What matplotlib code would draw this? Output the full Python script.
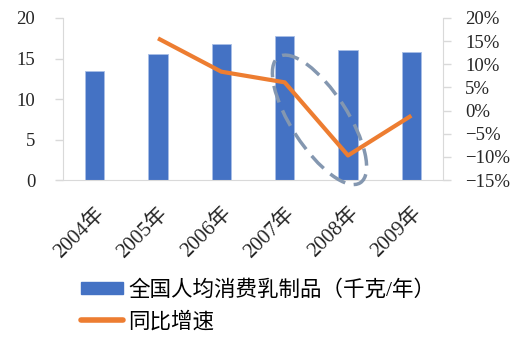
import matplotlib
matplotlib.use("Agg")
import matplotlib.pyplot as plt
from matplotlib.patches import Ellipse
from matplotlib.ticker import FuncFormatter
from matplotlib.lines import Line2D
from matplotlib.patches import Patch
import matplotlib.transforms as mtransforms

plt.rcParams['font.family'] = ['Liberation Serif', 'Noto Sans CJK SC', 'DejaVu Sans']
plt.rcParams['axes.unicode_minus'] = True

years = ['2004年', '2005年', '2006年', '2007年', '2008年', '2009年']
consumption = [13.5, 15.6, 16.8, 17.8, 16.0, 15.8]
growth_years = ['2005年', '2006年', '2007年', '2008年', '2009年']
growth = [15.6, 8.4, 6.1, -9.7, -1.1]

bar_label = '全国人均消费乳制品（千克/年）'
line_label = '同比增速'

bar_color = '#4472C4'
line_color = '#ED7D31'
axis_color = '#D9D9D9'

fig = plt.figure(figsize=(5.2, 3.38), dpi=100)
ax = fig.add_axes([63/520, 1-180/338, 380/520, 162/338])
ax2 = ax.twinx()

x = list(range(len(years)))
ax.bar(x, consumption, width=0.31, color=bar_color, edgecolor='#A9BFE6', linewidth=0.6, zorder=2)
ax.set_xlim(-0.5, len(years)-0.5)
ax.set_ylim(0, 20)
ax.set_yticks([0, 5, 10, 15, 20])

gx = [years.index(y) for y in growth_years]
ax2.plot(gx, growth, color=line_color, linewidth=3, solid_capstyle='butt', solid_joinstyle='round', zorder=3)
ax2.set_ylim(-15, 20)
ax2.set_yticks(list(range(-15, 21, 5)))
ax2.yaxis.set_major_formatter(FuncFormatter(lambda v, p: ('−' if v < 0 else '') + f'{abs(int(v))}%'))

for a in (ax, ax2):
    for s in ('top',):
        a.spines[s].set_visible(False)
    a.tick_params(colors=axis_color, labelcolor='#262626', labelsize=13.5, length=6, width=1)
ax.spines['right'].set_visible(False)
ax2.spines['left'].set_visible(False)
ax2.spines['bottom'].set_visible(False)
ax.spines['left'].set_color(axis_color)
ax.spines['bottom'].set_color(axis_color)
ax2.spines['right'].set_color(axis_color)
ax.spines['bottom'].set_bounds(-0.6, len(years)-0.42)
ax.tick_params(axis='y', pad=14)
ax2.tick_params(axis='y', pad=10)

ax.set_xticks(x)
ax.set_xticklabels(years, rotation=45, ha='right', rotation_mode='anchor', fontsize=15)
ax.tick_params(axis='x', length=0, pad=17)

# dashed ellipse annotation around the 2007-2008 drop
fig.canvas.draw()
cx, cy = ax2.transData.transform((3.55, -2.0))
ell = Ellipse((cx, cy), width=150, height=56, angle=-57, transform=mtransforms.IdentityTransform(),
              fill=False, edgecolor='#8497B0', linewidth=2.5, linestyle=(0, (5, 2.5)), zorder=5)
fig.add_artist(ell)

handles = [Patch(facecolor=bar_color, edgecolor=bar_color), Line2D([0], [0], color=line_color, linewidth=4, solid_capstyle='round')]
fig.legend(handles, [bar_label, line_label], loc='upper left', bbox_to_anchor=(81/520, 1-280/338),
           frameon=False, fontsize=15.5, handlelength=1.95, handleheight=0.45, handletextpad=0.25,
           labelspacing=0.5, borderaxespad=0, borderpad=0)

fig.savefig('out.png', dpi=100)
